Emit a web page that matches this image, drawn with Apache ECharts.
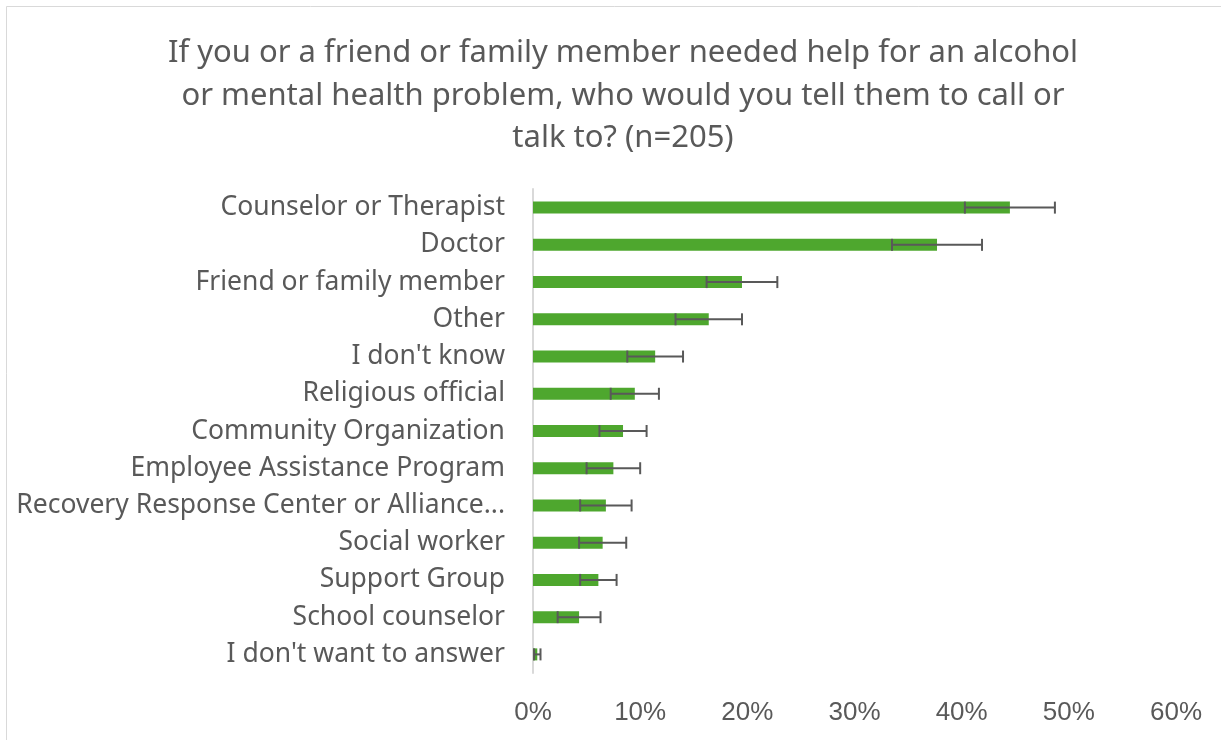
<!DOCTYPE html>
<html>
<head>
<meta charset="utf-8">
<script src="https://cdn.jsdelivr.net/npm/echarts@6/dist/echarts.min.js"></script>
<style>
html, body { margin: 0; padding: 0; background: #fff; }
#chart { width: 1221px; height: 740px; }
</style>
</head>
<body>
<div id="chart"></div>
<script>
// categories, top to bottom
var categories = [
	'Counselor or Therapist',
	'Doctor',
	'Friend or family member',
	'Other',
	"I don't know",
	'Religious official',
	'Community Organization',
	'Employee Assistance Program',
	'Recovery Response Center or Alliance...',
	'Social worker',
	'Support Group',
	'School counselor',
	"I don't want to answer"
];
// percent of respondents
var percents = [44.5, 37.7, 19.5, 16.4, 11.4, 9.5, 8.4, 7.5, 6.8, 6.5, 6.1, 4.3, 0.4];
// error bar half width (percent points)
var errors = [4.2, 4.2, 3.3, 3.1, 2.6, 2.25, 2.2, 2.5, 2.4, 2.2, 1.7, 2.0, 0.3];
var xTicks = [0, 10, 20, 30, 40, 50, 60];

var myChart = echarts.init(document.getElementById('chart'));

var errData = [];
for (var i = 0; i < categories.length; i++) {
	errData.push([i, percents[i] - errors[i], percents[i] + errors[i]]);
}

var option = {
	animation: false,
	backgroundColor: '#ffffff',
	title: {
		text: 'If you or a friend or family member needed help for an alcohol\nor mental health problem, who would you tell them to call or\ntalk to? (n=205)',
		left: 618,
		top: 27,
		textAlign: 'center',
		textStyle: {
			fontFamily: 'Noto Sans',
			fontSize: 31,
			fontWeight: 'normal',
			color: '#595959',
			lineHeight: 42.5
		}
	},
	graphic: [{
		type: 'rect',
		shape: { x: 6.5, y: 6.5, width: 1240, height: 760 },
		style: { fill: 'none', stroke: '#d9d9d9', lineWidth: 1 }
	}],
	grid: {
		left: 533,
		right: 45,
		top: 189,
		bottom: 67
	},
	xAxis: {
		type: 'value',
		min: xTicks[0],
		max: xTicks[xTicks.length - 1],
		interval: 10,
		axisLine: { show: false },
		axisTick: { show: false },
		splitLine: { show: false },
		axisLabel: {
			formatter: '{value}%',
			fontFamily: 'Liberation Sans',
			fontSize: 26,
			color: '#595959',
			margin: 27
		}
	},
	yAxis: {
		type: 'category',
		data: categories,
		inverse: true,
		axisLine: { show: true, lineStyle: { color: '#d9d9d9', width: 2 } },
		axisTick: { show: false },
		axisLabel: {
			fontFamily: 'Noto Sans',
			fontSize: 26.5,
			color: '#595959',
			margin: 28
		}
	},
	series: [{
		type: 'bar',
		data: percents,
		barWidth: 12,
		itemStyle: { color: '#4ea72e' }
	}, {
		type: 'custom',
		data: errData,
		z: 5,
		renderItem: function(params, api) {
			var idx = api.value(0);
			var lo = api.coord([api.value(1), idx]);
			var hi = api.coord([api.value(2), idx]);
			var cap = 6;
			var st = { stroke: '#595959', lineWidth: 2 };
			return {
				type: 'group',
				children: [{
					type: 'line',
					shape: { x1: lo[0], y1: lo[1], x2: hi[0], y2: hi[1] },
					style: st
				}, {
					type: 'line',
					shape: { x1: lo[0], y1: lo[1] - cap, x2: lo[0], y2: lo[1] + cap },
					style: st
				}, {
					type: 'line',
					shape: { x1: hi[0], y1: hi[1] - cap, x2: hi[0], y2: hi[1] + cap },
					style: st
				}]
			};
		}
	}]
};
myChart.setOption(option);
</script>
</body>
</html>
